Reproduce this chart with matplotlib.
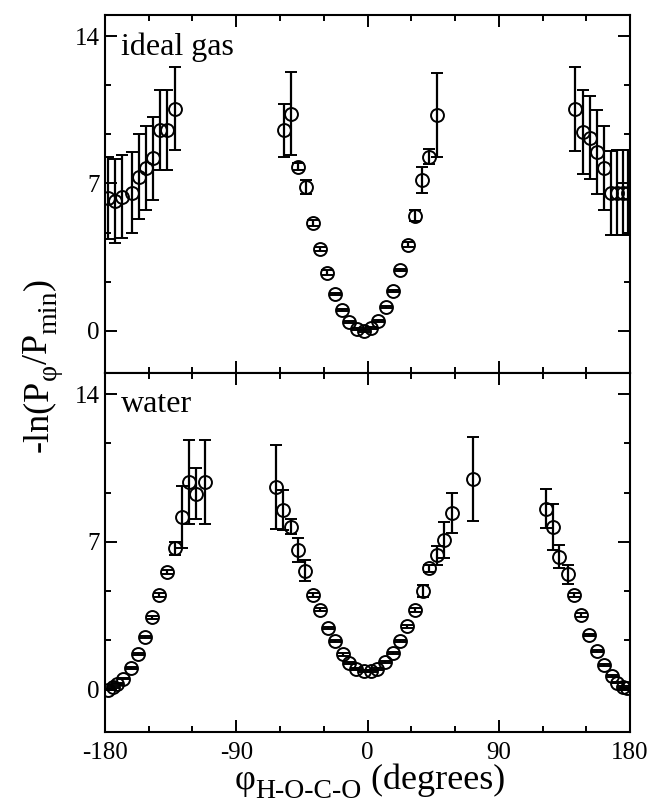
import matplotlib
matplotlib.use("Agg")
import matplotlib.pyplot as plt
from matplotlib.ticker import MultipleLocator
from matplotlib.transforms import IdentityTransform

# ---------------- data ----------------
# ideal gas panel
ideal_phi = [-177.7, -173.1, -168.5, -161.7, -156.5, -151.9, -146.9, -142.3, -137.7, -132.0,
             -57.5, -52.5, -47.5, -42.5, -37.5, -32.5, -27.5, -22.5, -17.5, -12.5, -7.5, -2.5,
             2.5, 7.5, 12.5, 17.5, 22.5, 27.5, 32.5, 37.5, 42.5, 47.5,
             142.3, 147.6, 152.6, 157.2, 162.2, 166.8, 171.3, 175.5, 178.9]
ideal_val = [6.31, 6.15, 6.38, 6.57, 7.33, 7.72, 8.19, 9.53, 9.53, 10.55,
             9.53, 10.31, 7.80, 6.83, 5.13, 3.90, 2.77, 1.75, 1.00, 0.41, 0.09, 0.00,
             0.13, 0.49, 1.12, 1.90, 2.89, 4.10, 5.47, 7.17, 8.27, 10.24,
             10.55, 9.45, 9.18, 8.50, 7.75, 6.54, 6.57, 6.57, 6.57]
ideal_err = [1.96, 2.00, 1.97, 1.93, 2.04, 2.00, 1.97, 1.90, 1.90, 1.97,
             1.25, 1.97, 0.15, 0.35, 0.15, 0.10, 0.10, 0.05, 0.05, 0.05, 0.05, 0.05,
             0.05, 0.05, 0.05, 0.05, 0.05, 0.10, 0.25, 0.60, 0.35, 2.00,
             2.00, 2.00, 1.95, 2.00, 2.00, 2.00, 2.00, 2.00, 2.00]

# water panel
water_phi = [-177.7, -174.7, -171.6, -167.4, -162.4, -157.2, -152.6, -147.6, -143.0, -137.3,
             -132.0, -127.4, -122.2, -117.6, -111.4,
             -62.7, -57.7, -52.7, -47.4, -42.9, -37.6, -32.6, -26.9, -22.3, -17.0, -12.5, -7.9,
             -2.5, 2.5, 6.7, 12.0, 17.3, 22.3, 27.3, 32.6, 37.9, 42.4, 47.5, 52.5, 57.8, 72.2,
             122.4, 127.0, 131.5, 137.3, 141.6, 146.4, 152.1, 157.2, 162.2, 167.5, 171.3, 175.0, 178.2]
water_val = [0.01, 0.13, 0.28, 0.52, 1.04, 1.70, 2.49, 3.43, 4.50, 5.57,
             6.70, 8.19, 9.84, 9.29, 9.84,
             9.61, 8.50, 7.72, 6.62, 5.63, 4.50, 3.79, 2.92, 2.30, 1.67, 1.27, 1.00,
             0.88, 0.88, 1.00, 1.32, 1.75, 2.30, 3.00, 3.79, 4.68, 5.75, 6.38, 7.09, 8.35, 9.97,
             8.58, 7.72, 6.31, 5.47, 4.47, 3.55, 2.61, 1.83, 1.17, 0.65, 0.33, 0.13, 0.06]
water_err = [0.03, 0.03, 0.03, 0.03, 0.05, 0.05, 0.05, 0.08, 0.10, 0.10,
             0.30, 1.47, 2.00, 1.20, 2.00,
             2.00, 0.95, 0.35, 0.57, 0.50, 0.10, 0.08, 0.05, 0.05, 0.05, 0.05, 0.05,
             0.05, 0.05, 0.05, 0.05, 0.05, 0.05, 0.08, 0.10, 0.30, 0.15, 0.45, 0.85, 0.95, 2.00,
             0.93, 1.10, 0.55, 0.45, 0.10, 0.10, 0.05, 0.05, 0.05, 0.05, 0.03, 0.03, 0.03]

xticks = [-180, -90, 0, 90, 180]
yticks = [0, 7, 14]
panel_labels = ["ideal gas", "water"]

# ---------------- style ----------------
plt.rcParams['font.family'] = ['Liberation Serif', 'DejaVu Serif']

fig = plt.figure(figsize=(6.52, 8.06), dpi=100)
W, H = 652, 806
L, R = 105 / W, 630 / W
ax1 = fig.add_axes([L, 1 - 373 / H, R - L, (373 - 15) / H])
ax2 = fig.add_axes([L, 1 - 732 / H, R - L, (732 - 373) / H])

for ax, phi, val, err, lab in [(ax1, ideal_phi, ideal_val, ideal_err, panel_labels[0]),
                               (ax2, water_phi, water_val, water_err, panel_labels[1])]:
    ax.errorbar(phi, val, yerr=err, fmt='o', ms=9.3, mfc='none', mec='black', mew=1.4,
                ecolor='black', elinewidth=1.6, capsize=4, capthick=1.6, color='black')
    ax.set_xlim(-180, 180)
    ax.set_ylim(-2, 15)
    ax.xaxis.set_major_locator(MultipleLocator(90))
    ax.xaxis.set_minor_locator(MultipleLocator(30))
    ax.yaxis.set_minor_locator(MultipleLocator(7 / 3))
    ax.set_yticks(yticks)
    ax.tick_params(which='both', direction='in', top=True, right=True, width=1.4)
    ax.tick_params(which='major', length=8.5, labelsize=18, pad=4)
    ax.tick_params(which='minor', length=4.5)
    for s in ax.spines.values():
        s.set_linewidth(1.5)
    ax.text(0.03, 0.952, lab, transform=ax.transAxes, fontsize=23, va='top', ha='left')

ax1.tick_params(labelbottom=False)
ax2.set_xticks(xticks)
ax2.set_xticklabels([str(t) for t in xticks])
ax2.tick_params(axis='x', which='major', pad=7)

# ---------------- composed axis labels ----------------
fig.canvas.draw()
renderer = fig.canvas.get_renderer()


def text_width(s, size):
    t = fig.text(0, 0, s, fontsize=size)
    w = t.get_window_extent(renderer).width
    t.remove()
    return w


def compose(pieces, cx, cy, vertical=False):
    """pieces: list of (string, fontsize, baseline_shift_px)"""
    widths = [text_width(s, sz) for s, sz, _ in pieces]
    total = sum(widths)
    pos = -total / 2
    for (s, sz, shift), w in zip(pieces, widths):
        if vertical:
            x, y = cx - shift, cy + pos
            fig.text(x, y, s, fontsize=sz, rotation=90, rotation_mode='anchor',
                     ha='left', va='baseline', transform=IdentityTransform())
        else:
            x, y = cx + pos, cy + shift
            fig.text(x, y, s, fontsize=sz, ha='left', va='baseline',
                     transform=IdentityTransform())
        pos += w


# x label: phi_{H-O-C-O} (degrees)
compose([('φ', 26, 0), ('H-O-C-O', 20, -9), (' (degrees)', 26, 0)], 370, 17)
# y label: -ln(P_phi/P_min)
compose([('-ln(P', 26, 0), ('φ', 20, -9), ('/P', 26, 0), ('min', 20, -9), (')', 26, 0)],
        47, H - 365, vertical=True)

fig.savefig('out.png', dpi=100)
